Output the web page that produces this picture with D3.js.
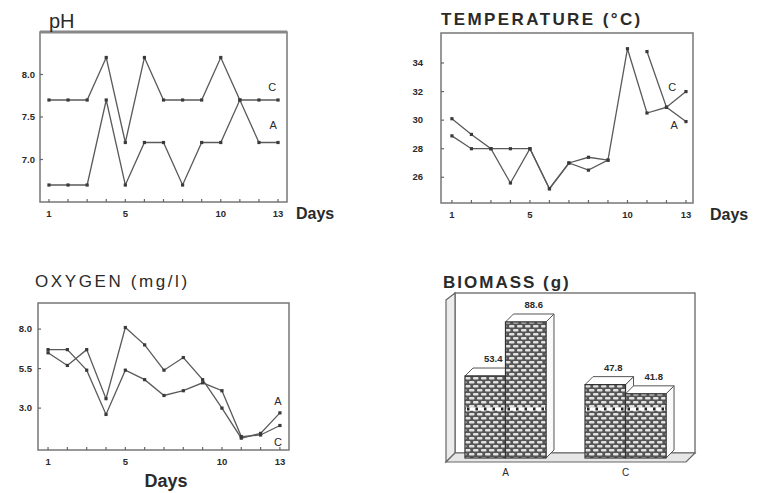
<!DOCTYPE html>
<html>
<head>
<meta charset="utf-8">
<script src="https://cdn.jsdelivr.net/npm/d3@7"></script>
<style>
  body { margin: 0; background: #fff; }
  svg text { font-family: "Liberation Sans", Arial, sans-serif; fill: #2a2a2a; }
</style>
</head>
<body>
<div id="chart"></div>
<script>
// ---- data ----
var days = [1, 2, 3, 4, 5, 6, 7, 8, 9, 10, 11, 12, 13];
var dayTicks = [1, 5, 10, 13];

var phA = [6.7, 6.7, 6.7, 7.7, 6.7, 7.2, 7.2, 6.7, 7.2, 7.2, 7.7, 7.2, 7.2];
var phC = [7.7, 7.7, 7.7, 8.2, 7.2, 8.2, 7.7, 7.7, 7.7, 8.2, 7.7, 7.7, 7.7];
var phTicks = [7.0, 7.5, 8.0];

var tempA = [30.1, 29.0, 28.0, 25.6, 28.0, 25.2, 27.0, 26.5, 27.2, 35.0, 30.5, 30.9, 29.9];
var tempC = [28.9, 28.0, 28.0, 28.0, 28.0, 25.2, 27.0, 27.4, 27.2, null, 34.8, 30.9, 32.0];
var tempTicks = [26, 28, 30, 32, 34];

var oxA = [6.5, 5.7, 6.7, 3.6, 8.1, 7.0, 5.4, 6.2, 4.8, 3.0, 1.1, 1.4, 2.7];
var oxC = [6.7, 6.7, 5.4, 2.6, 5.4, 4.8, 3.8, 4.1, 4.6, 4.1, 1.2, 1.3, 1.9];
var oxTicks = [3.0, 5.5, 8.0];

var bioGroups = ["A", "C"];
var bioFirst = [53.4, 47.8];
var bioSecond = [88.6, 41.8];
var bioRefLine = 32;

var svg = d3.select('#chart').append('svg')
    .attr('width', 761)
    .attr('height', 493);

var ink = '#3a3a3a';

// brick-like hatch for the bars
var defs = svg.append('defs');
var pat = defs.append('pattern')
    .attr('id', 'brick')
    .attr('patternUnits', 'userSpaceOnUse')
    .attr('width', 8).attr('height', 8);
pat.append('rect').attr('width', 8).attr('height', 8).attr('fill', '#555');
pat.append('rect').attr('x', 1).attr('y', 1).attr('width', 5.5).attr('height', 2.4).attr('rx', 1).attr('fill', '#e2e2e2');
pat.append('rect').attr('x', -3).attr('y', 5).attr('width', 5.5).attr('height', 2.4).attr('rx', 1).attr('fill', '#e2e2e2');
pat.append('rect').attr('x', 5).attr('y', 5).attr('width', 5.5).attr('height', 2.4).attr('rx', 1).attr('fill', '#e2e2e2');

// one of the three line panels
function linePanel(cfg) {
    var x = d3.scaleLinear().domain(cfg.xDomain).range([cfg.box[0], cfg.box[1]]);
    var y = d3.scaleLinear().domain(cfg.yDomain).range([cfg.box[3], cfg.box[2]]);
    var g = svg.append('g');

    // frame
    g.append('rect')
        .attr('x', cfg.box[0]).attr('y', cfg.box[2])
        .attr('width', cfg.box[1] - cfg.box[0])
        .attr('height', cfg.box[3] - cfg.box[2])
        .attr('fill', 'none')
        .attr('stroke', '#777')
        .attr('stroke-width', 1.5);
    if (cfg.thickTop) {
        g.append('line')
            .attr('x1', cfg.box[0]).attr('x2', cfg.box[1])
            .attr('y1', cfg.box[2]).attr('y2', cfg.box[2])
            .attr('stroke', '#888').attr('stroke-width', 3);
    }

    // x ticks, one per day, pointing inward
    g.selectAll('.xt').data(days).enter().append('line')
        .attr('x1', d => x(d)).attr('x2', d => x(d))
        .attr('y1', cfg.box[3]).attr('y2', cfg.box[3] - 3)
        .attr('stroke', '#666').attr('stroke-width', 1.2);
    g.selectAll('.xl').data(dayTicks).enter().append('text')
        .attr('x', d => x(d)).attr('y', cfg.box[3] + 15)
        .attr('text-anchor', 'middle')
        .attr('font-size', 9.5).attr('font-weight', 'bold')
        .text(d => d);

    // y ticks
    g.selectAll('.yt').data(cfg.yTicks).enter().append('line')
        .attr('x1', cfg.box[0]).attr('x2', cfg.box[0] + 3)
        .attr('y1', d => y(d)).attr('y2', d => y(d))
        .attr('stroke', '#666').attr('stroke-width', 1.2);
    g.selectAll('.yl').data(cfg.yTicks).enter().append('text')
        .attr('x', cfg.box[0] - cfg.labelGap).attr('y', d => y(d) + 3)
        .attr('text-anchor', 'end')
        .attr('font-size', 9.5).attr('font-weight', 'bold')
        .text(d => cfg.fmt(d));

    var line = d3.line()
        .defined(d => d[1] != null)
        .x(d => x(d[0]))
        .y(d => y(d[1]));

    cfg.series.forEach(function (s) {
        var pts = days.map((d, i) => [d, s.values[i]]);
        g.append('path')
            .attr('d', line(pts))
            .attr('fill', 'none')
            .attr('stroke', '#5a5a5a')
            .attr('stroke-width', 1.3);
        g.selectAll(null).data(pts.filter(p => p[1] != null)).enter().append('rect')
            .attr('x', p => x(p[0]) - 1.6).attr('y', p => y(p[1]) - 1.6)
            .attr('width', 3.2).attr('height', 3.2)
            .attr('fill', ink);
        var last = s.values[s.values.length - 1];
        g.append('text')
            .attr('x', x(s.labelDay)).attr('y', y(last) + s.labelDy)
            .attr('text-anchor', 'middle')
            .attr('font-size', 11)
            .text(s.name);
    });

    // title and days label
    g.append('text')
        .attr('x', cfg.title.x).attr('y', cfg.title.y)
        .attr('font-size', cfg.title.size)
        .attr('font-weight', cfg.title.weight)
        .attr('letter-spacing', cfg.title.spacing)
        .text(cfg.title.text);
    g.append('text')
        .attr('x', cfg.daysPos[0]).attr('y', cfg.daysPos[1])
        .attr('text-anchor', cfg.daysPos[3] || 'start')
        .attr('font-size', cfg.daysPos[2])
        .attr('font-weight', 'bold')
        .text('Days');
}

// pH
linePanel({
    box: [40, 287, 32, 202],
    xDomain: [0.53, 13.47],
    yDomain: [6.5, 8.5],
    yTicks: phTicks,
    fmt: d3.format('.1f'),
    labelGap: 5,
    thickTop: true,
    series: [
        { name: 'C', values: phC, labelDay: 12.7, labelDy: -9 },
        { name: 'A', values: phA, labelDay: 12.75, labelDy: -14 }
    ],
    title: { text: 'pH', x: 49, y: 28, size: 20, weight: 'normal', spacing: 0 },
    daysPos: [296, 219, 16]
});

// temperature
linePanel({
    box: [441, 693, 33, 203],
    xDomain: [0.44, 13.36],
    yDomain: [24.2, 36.1],
    yTicks: tempTicks,
    fmt: d3.format('d'),
    labelGap: 18,
    thickTop: false,
    series: [
        { name: 'C', values: tempC, labelDay: 12.3, labelDy: -1 },
        { name: 'A', values: tempA, labelDay: 12.4, labelDy: 7 }
    ],
    title: { text: 'TEMPERATURE (°C)', x: 441, y: 25, size: 17, weight: 'bold', spacing: 2.4 },
    daysPos: [710, 220, 16]
});

// oxygen
linePanel({
    box: [38, 289, 303, 450],
    xDomain: [0.48, 13.47],
    yDomain: [0.35, 9.65],
    yTicks: oxTicks,
    fmt: d3.format('.1f'),
    labelGap: 6,
    thickTop: false,
    series: [
        { name: 'A', values: oxA, labelDay: 12.9, labelDy: -8 },
        { name: 'C', values: oxC, labelDay: 12.9, labelDy: 20 }
    ],
    title: { text: 'OXYGEN (mg/l)', x: 35, y: 287, size: 17, weight: 'normal', spacing: 2.6 },
    daysPos: [166, 487, 18, 'middle']
});

// ---- biomass, pseudo-3D bars ----
var bx = d3.scaleBand().domain(bioGroups).range([455, 676]).paddingInner(0.325).paddingOuter(0.083);
var sub = d3.scaleBand().domain([0, 1]).range([0, bx.bandwidth()]);
var by = d3.scaleLinear().domain([0, 100]).range([458, 304.5]);
var ddx = 8, ddy = -8;
var bg = svg.append('g');

// walls and floor
bg.append('rect').attr('x', 455).attr('y', 293).attr('width', 240).attr('height', 160)
    .attr('fill', '#fff').attr('stroke', '#666').attr('stroke-width', 1.3);
bg.append('polygon').attr('points', '446,300 455,293 455,453 446,462')
    .attr('fill', '#ececec').attr('stroke', '#666').attr('stroke-width', 1.2);
bg.append('polygon').attr('points', '446,462 455,453 695,453 686,462')
    .attr('fill', '#e6e6e6').attr('stroke', '#666').attr('stroke-width', 1.2);

var bars = [];
bioGroups.forEach(function (gname, i) {
    bars.push({ g: gname, k: 0, v: bioFirst[i] });
    bars.push({ g: gname, k: 1, v: bioSecond[i] });
});

bars.forEach(function (b) {
    var x0 = bx(b.g) + sub(b.k), w = sub.bandwidth();
    var yt = by(b.v), y0 = by(0);
    // side face
    bg.append('polygon')
        .attr('points', [[x0 + w, yt], [x0 + w + ddx, yt + ddy], [x0 + w + ddx, y0 + ddy], [x0 + w, y0]].join(' '))
        .attr('fill', '#fafafa').attr('stroke', '#555').attr('stroke-width', 1);
    // top face
    bg.append('polygon')
        .attr('points', [[x0, yt], [x0 + ddx, yt + ddy], [x0 + w + ddx, yt + ddy], [x0 + w, yt]].join(' '))
        .attr('fill', '#fff').attr('stroke', '#555').attr('stroke-width', 1);
    // front face
    bg.append('rect')
        .attr('x', x0).attr('y', yt).attr('width', w).attr('height', y0 - yt)
        .attr('fill', 'url(#brick)').attr('stroke', '#333').attr('stroke-width', 1.2);
    // white band with dark dots
    bg.append('line')
        .attr('x1', x0 + 1).attr('x2', x0 + w - 1)
        .attr('y1', by(bioRefLine)).attr('y2', by(bioRefLine))
        .attr('stroke', '#fff').attr('stroke-width', 3.5);
    bg.append('line')
        .attr('x1', x0 + 2).attr('x2', x0 + w - 2)
        .attr('y1', by(bioRefLine)).attr('y2', by(bioRefLine))
        .attr('stroke', '#222').attr('stroke-width', 3)
        .attr('stroke-dasharray', '2.5,6');
    // value label
    bg.append('text')
        .attr('x', x0 + w / 2 + 8).attr('y', yt - 14)
        .attr('text-anchor', 'middle')
        .attr('font-size', 9.5).attr('font-weight', 'bold')
        .text(d3.format('.1f')(b.v));
});

bg.selectAll('.cat').data(bioGroups).enter().append('text')
    .attr('x', d => bx(d) + bx.bandwidth() / 2)
    .attr('y', 476)
    .attr('text-anchor', 'middle')
    .attr('font-size', 10)
    .text(d => d);

bg.append('text')
    .attr('x', 443).attr('y', 288)
    .attr('font-size', 17).attr('font-weight', 'bold')
    .attr('letter-spacing', 2)
    .text('BIOMASS (g)');
</script>
</body>
</html>
